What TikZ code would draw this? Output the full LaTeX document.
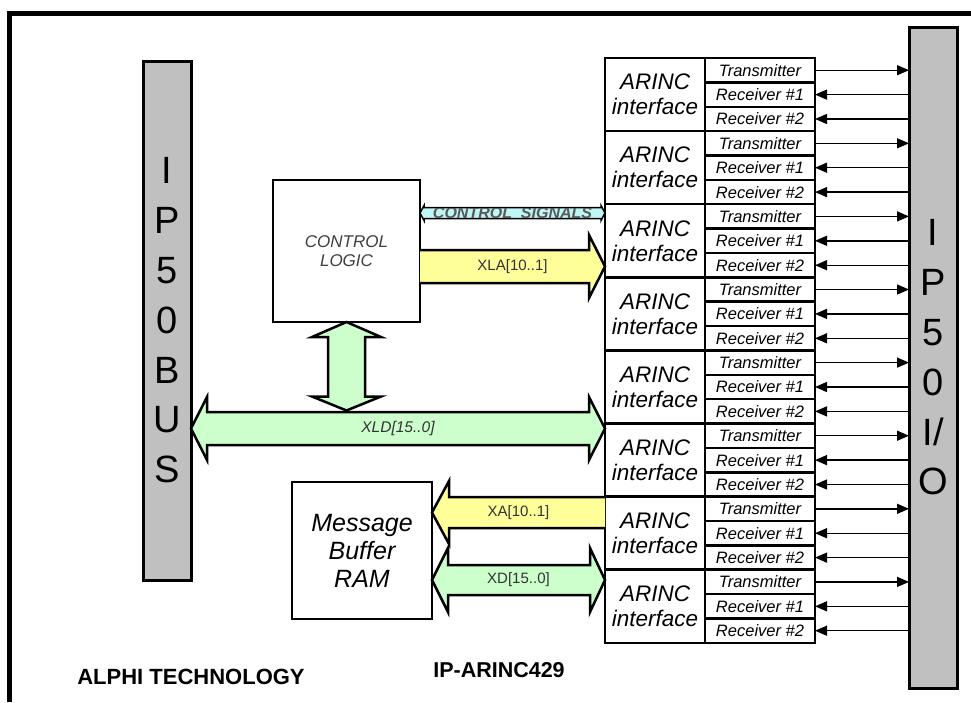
\documentclass[tikz,border=0pt]{standalone}
\usepackage{fontspec}
\setmainfont{Liberation Sans}
\usetikzlibrary{arrows.meta,positioning,calc}
\definecolor{bargray}{HTML}{C0C0C0}
\definecolor{busgreen}{HTML}{CCFFCC}
\definecolor{addryellow}{HTML}{FFFF99}
\definecolor{ctrlcyan}{HTML}{BFF5F5}
\tikzset{
  block/.style={draw, line width=2.5pt, fill=white, inner sep=0pt, outer sep=0pt},
  arincbox/.style={block, minimum width=100pt, minimum height=73.1pt, align=center,
    font=\fontsize{22.5}{25}\selectfont\itshape},
  subbox/.style={block, minimum width=110pt, minimum height=24.4pt,
    font=\fontsize{16.5}{18}\selectfont\itshape},
  busbar/.style={draw, line width=3pt, fill=bargray, minimum width=48pt, inner sep=0pt,
    outer sep=0pt, align=center, font=\fontsize{38}{49.8}\selectfont},
  sig/.style={line width=1.4pt, -{Triangle[length=12pt,width=10pt]}},
  fatarrow/.style={draw, line width=2.5pt, line join=miter},
  lbl/.style={font=\fontsize{15}{18}\selectfont, text=black!80},
}
\begin{document}
\begin{tikzpicture}[x=1pt,y=-1pt]
  \useasboundingbox (0,0) rectangle (971,702);
  % frame
  \draw[line width=5pt] (9,702) -- (9,13) -- (971,13);
  % IP50 buses
  \node[busbar, minimum height=519pt] (ipbus) at (167,320.5) {I\\P\\5\\0\\B\\U\\S};
  \node[busbar, minimum height=661pt] (ipio) at (933,357.5) {I\\P\\5\\0\\I/\\O};
  % ARINC channels
  \foreach \k [evaluate=\k as \yy using 58+73.1*\k] in {0,...,7}{
    \node[arincbox] (ai\k) at (655,\yy+36.55) {ARINC\\interface};
    \node[subbox] (tx\k) at (760,\yy+12.2) {Transmitter};
    \node[subbox, below=0pt of tx\k] (rxa\k) {Receiver \#1};
    \node[subbox, below=0pt of rxa\k] (rxb\k) {Receiver \#2};
    \draw[sig] (tx\k.east) -- (tx\k.east -| ipio.west);
    \draw[sig] (rxa\k.east -| ipio.west) -- (rxa\k.east);
    \draw[sig] (rxb\k.east -| ipio.west) -- (rxb\k.east);
  }
  % control logic and RAM
  \node[block, minimum width=147pt, minimum height=142pt, align=center, text=black!75,
    font=\fontsize{17}{18.5}\selectfont\itshape] (ctrl) at (346.5,251) {CONTROL\\LOGIC};
  \node[block, minimum width=140pt, minimum height=137pt, align=center,
    font=\fontsize{25}{28}\selectfont\itshape] (ram) at (362,550.5) {Message\\Buffer\\RAM};
  % control signals
  \coordinate (csL) at (ctrl.east |- 0,213);
  \coordinate (csR) at (ai2.west |- 0,213);
  \filldraw[fatarrow, line width=1.5pt, fill=ctrlcyan] (csL) -- ++(4,-7.5) -- ++(0,2) -- ($(csR)+(-4,-5.5)$)
    -- ++(0,-2) -- (csR) -- ++(-4,7.5) -- ++(0,-2) -- ($(csL)+(4,5.5)$) -- ++(0,2) -- cycle;
  \begin{scope}
    \clip ($(csL)+(4,-5)$) rectangle ($(csR)+(-4,5)$);
    \node[font=\fontsize{16}{16}\selectfont\itshape\bfseries, text=black!65] (cslbl)
      at ($(csL)!0.5!(csR)$) {CONTROL\ \ SIGNALS};
  \end{scope}
  % XLA
  \coordinate (xlaL) at (ctrl.east |- 0,266.5);
  \coordinate (xlaR) at (ai2.west |- 0,266.5);
  \filldraw[fatarrow, fill=addryellow] ($(xlaL)+(0,-16.5)$) -- ($(xlaR)+(-16,-16.5)$) -- ++(0,-15)
    -- (xlaR) -- ($(xlaR)+(-16,31.5)$) -- ++(0,-15) -- ($(xlaL)+(0,16.5)$);
  \node[lbl] (xlalbl) at ($(xlaL)!0.5!(xlaR)$) {XLA[10..1]};
  % XLD
  \coordinate (xldL) at (ipbus.east |- 0,428.5);
  \coordinate (xldR) at (ai5.west |- 0,428.5);
  \coordinate (vT) at (ctrl.south);
  \coordinate (vB) at ($(ctrl.south |- xldL)+(0,-18)$);
  \filldraw[fatarrow, fill=busgreen] (vT) -- ++(34.5,15) -- ++(-16,0) -- ($(vB)+(18.5,-14)$)
    -- ++(16,0) -- (vB) -- ++(-34.5,-14) -- ++(16,0) -- ($(vT)+(-18.5,15)$) -- ++(-16,0) -- cycle;
  \filldraw[fatarrow, fill=busgreen] (xldL) -- ++(16,-31.5) -- ++(0,15) -- ($(xldR)+(-16,-16.5)$)
    -- ++(0,-15) -- (xldR) -- ++(-16,31.5) -- ++(0,-15) -- ($(xldL)+(16,16.5)$) -- ++(0,15) -- cycle;
  \node[lbl, font=\fontsize{15.5}{18}\selectfont\itshape] (xldlbl) at ($(xldL)!0.5!(xldR)$) {XLD[15..0]};
  % XA
  \coordinate (xaL) at (ram.east |- 0,512.5);
  \coordinate (xaR) at (ai6.west |- 0,512.5);
  \filldraw[fatarrow, fill=addryellow] ($(xaR)+(0,-15.5)$) -- ($(xaL)+(17,-15.5)$) -- ++(0,-16)
    -- (xaL) -- ++(17,31.5) -- ++(0,-16) -- ($(xaR)+(0,15.5)$);
  \node[lbl] (xalbl) at ($(xaL)!0.5!(xaR)$) {XA[10..1]};
  % XD
  \coordinate (xdL) at (ram.east |- 0,580);
  \coordinate (xdR) at (ai7.west |- 0,580);
  \filldraw[fatarrow, fill=busgreen] (xdL) -- ++(16,-32) -- ++(0,17) -- ($(xdR)+(-15,-15)$)
    -- ++(0,-17) -- (xdR) -- ++(-15,32) -- ++(0,-17) -- ($(xdL)+(16,15)$) -- ++(0,17) -- cycle;
  \node[lbl] (xdlbl) at ($(xdL)!0.5!(xdR)$) {XD[15..0]};
  % footer
  \node[font=\fontsize{22}{24}\selectfont\bfseries] (maker) at (191,677) {ALPHI TECHNOLOGY};
  \node[font=\fontsize{21.5}{24}\selectfont\bfseries] (board) at (499,670) {IP-ARINC429};
\end{tikzpicture}
\end{document}
